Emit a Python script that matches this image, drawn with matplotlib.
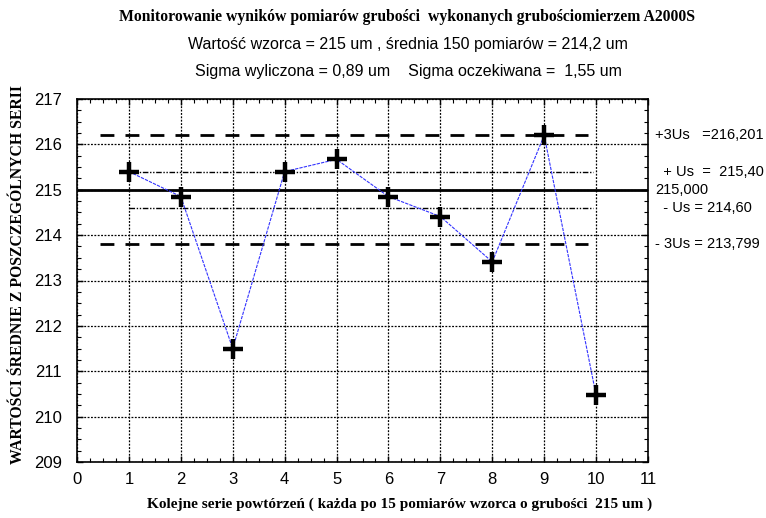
import matplotlib
matplotlib.use("Agg")
import matplotlib.pyplot as plt
from matplotlib.ticker import MultipleLocator

series = [1, 2, 3, 4, 5, 6, 7, 8, 9, 10]
means = [215.4, 214.85, 211.5, 215.4, 215.67, 214.85, 214.41, 213.41, 216.2, 210.47]
nominal = 215.0
plus_us = 215.40
minus_us = 214.60
plus_3us = 216.201
minus_3us = 213.799

title1 = "Monitorowanie wyników pomiarów grubości  wykonanych grubościomierzem A2000S"
title2 = "Wartość wzorca = 215 um , średnia 150 pomiarów = 214,2 um"
title3 = "Sigma wyliczona = 0,89 um    Sigma oczekiwana =  1,55 um"
xlabel = "Kolejne serie powtórzeń ( każda po 15 pomiarów wzorca o grubości  215 um )"
ylabel = "WARTOŚCI ŚREDNIE Z POSZCZEGÓLNYCH SERII"
right_labels = [(plus_3us, "+3Us   =216,201"),
                (plus_us, "  + Us  =  215,40"),
                (nominal, "215,000"),
                (minus_us, "  - Us = 214,60"),
                (minus_3us, "- 3Us = 213,799")]

fig = plt.figure(figsize=(7.66, 5.18), dpi=100)
ax = fig.add_axes([77/766, 1-462/518, (648-77)/766, (462-99)/518])

sans = "Liberation Sans"
serif = "Liberation Serif"

ax.set_xlim(0, 11)
ax.set_ylim(209, 217)
ax.xaxis.set_major_locator(MultipleLocator(1))
ax.yaxis.set_major_locator(MultipleLocator(1))
ax.xaxis.set_minor_locator(MultipleLocator(0.25))
ax.yaxis.set_minor_locator(MultipleLocator(0.25))
ax.tick_params(which="both", direction="in", top=True, right=True, color="black")
ax.tick_params(which="major", length=4, width=1)
ax.tick_params(which="minor", length=3, width=0.8)
ax.tick_params(axis="both", which="major", labelsize=12)
ax.tick_params(axis="y", which="major", pad=11)
ax.tick_params(axis="x", which="major", pad=7)
for lab in ax.get_xticklabels() + ax.get_yticklabels():
    lab.set_fontfamily(sans)
for s in ax.spines.values():
    s.set_linewidth(1.2)

ax.grid(True, which="major", color="black", linestyle=(0, (1.5, 1.2)), linewidth=0.9)
ax.set_axisbelow(True)

# reference lines
ax.hlines([plus_3us, minus_3us], 0.45, 9.85, colors="black", linestyles=(0, (5, 4)), linewidth=2)
ax.hlines([plus_us, minus_us], 1.0, 9.95, colors="black",
          linestyles=(0, (4, 1.2, 1, 1.2, 1, 1.2)), linewidth=1.0)
ax.hlines([nominal], 0, 11, colors="black", linestyles="solid", linewidth=2)

ax.plot(series, means, color="#3333ff", linestyle=(0, (3, 1)), linewidth=0.8, zorder=3)
ax.plot(series, means, linestyle="none", marker="+", markersize=14, markeredgewidth=3.2,
        color="black", zorder=4)

for yv, txt in right_labels:
    ax.text(1.012, (yv - 209) / 8, txt, transform=ax.transAxes, fontsize=10.5,
            family=sans, va="center", ha="left")

fig.text(407/766, 1-17/518, title1, ha="center", va="center", fontsize=11.3,
         family=serif, fontweight="bold")
fig.text(408/766, 1-45/518, title2, ha="center", va="center", fontsize=11.5, family=sans)
fig.text(408/766, 1-71/518, title3, ha="center", va="center", fontsize=11.5, family=sans)
fig.text(400/766, 1-504/518, xlabel, ha="center", va="center", fontsize=11,
         family=serif, fontweight="bold")
fig.text(18/766, 1-275/518, ylabel, ha="center", va="center", fontsize=11.3,
         family=serif, fontweight="bold", rotation=90)

fig.savefig("out.png", dpi=100)
